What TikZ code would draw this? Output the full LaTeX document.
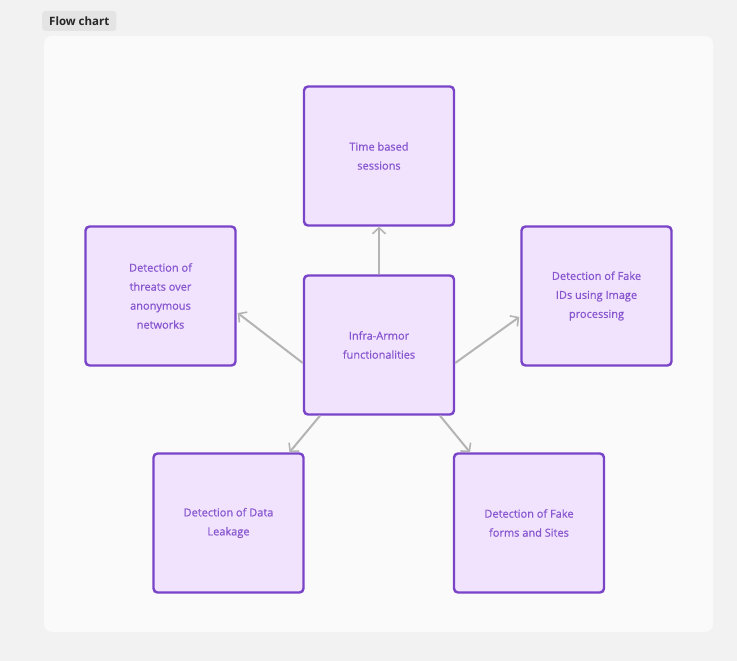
\documentclass[tikz,border=0pt]{standalone}
\usepackage{fontspec}
\setmainfont{Open Sans}
\newfontfamily\boxfont[FakeBold=0.7]{Open Sans}
\usetikzlibrary{arrows.meta}
\definecolor{bgc}{HTML}{F2F2F2}
\definecolor{panel}{HTML}{FAFAFA}
\definecolor{tagc}{HTML}{E4E4E4}
\definecolor{boxfill}{HTML}{F1E3FD}
\definecolor{boxdraw}{HTML}{7A44C9}
\definecolor{boxtext}{HTML}{8756CF}
\definecolor{arrc}{HTML}{B4B4B4}
\tikzset{
  fbox/.style={draw=boxdraw, line width=2.4pt, fill=boxfill, rounded corners=4pt,
    minimum width=150pt, minimum height=139pt, inner sep=0pt,
    text=boxtext, align=center, font=\boxfont\fontsize{11}{19}\selectfont},
  conn/.style={draw=arrc, line width=2pt, -{Straight Barb[length=6pt,width=13pt,line width=1.6pt]}}
}
\begin{document}
\begin{tikzpicture}[x=1pt,y=-1pt]
\fill[bgc] (0,0) rectangle (737,661);
\useasboundingbox (0,0) rectangle (737,661);
\fill[panel, rounded corners=8pt] (44,36) rectangle (713,632);
\node[fill=tagc, rounded corners=3pt, inner xsep=7pt, minimum height=20pt, anchor=west, font=\fontsize{11.5}{14}\selectfont\bfseries, text=black!85] (tag) at (42,21) {Flow chart};

\node[fbox] (center) at (379,345) {Infra-Armor\\functionalities};
\node[fbox] (top) at (379,156) {Time based\\sessions};
\node[fbox] (left) at (160.5,296) {Detection of\\threats over\\anonymous\\networks};
\node[fbox] (right) at (596.5,296) {Detection of Fake\\IDs using Image\\processing};
\node[fbox] (bl) at (228.5,523) {Detection of Data\\Leakage};
\node[fbox] (br) at (529,523) {Detection of Fake\\forms and Sites};

\draw[conn] (center.north) -- (top.south);
\draw[conn] ([yshift=-18pt]center.west) -- ([xshift=1pt,yshift=-17pt]left.east);
\draw[conn] ([yshift=-18pt]center.east) -- ([xshift=-1pt,yshift=-21pt]right.west);
\draw[conn] ([xshift=-59pt]center.south) -- ([xshift=61pt]bl.north);
\draw[conn] ([xshift=61pt]center.south) -- ([xshift=-59pt]br.north);
\end{tikzpicture}
\end{document}
